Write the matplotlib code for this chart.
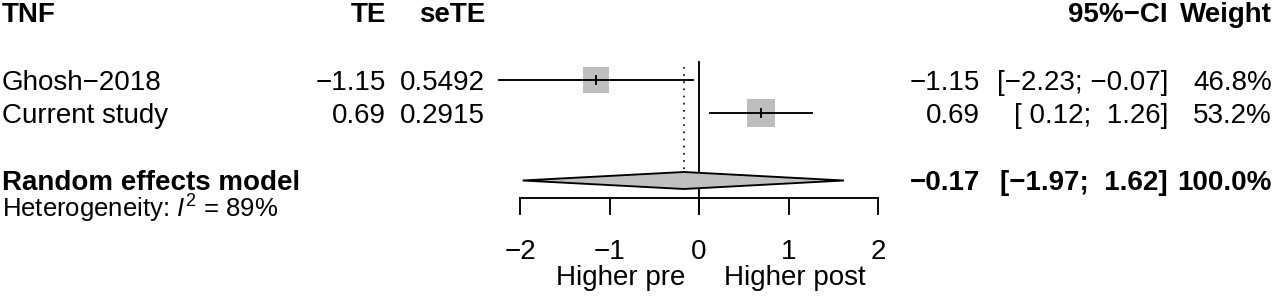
import matplotlib
matplotlib.use("Agg")
import matplotlib.pyplot as plt
from matplotlib.patches import Rectangle, Polygon
import numpy as np

plt.rcParams["font.family"] = ["Liberation Sans", "DejaVu Sans"]
plt.rcParams["mathtext.fontset"] = "custom"
plt.rcParams["mathtext.rm"] = "Liberation Sans"
plt.rcParams["mathtext.it"] = "Liberation Sans:italic"

# data
studies = ["Ghosh\u22122018", "Current study"]
te = [-1.15, 0.69]
se_te = [0.5492, 0.2915]
ci_low = [-2.23, 0.12]
ci_high = [-0.07, 1.26]
weights = [46.8, 53.2]
re_est = -0.17
re_low = -1.97
re_high = 1.62
i2 = 89
ticks = [-2, -1, 0, 1, 2]

# layout (pixels, y from top)
W, H = 1280, 300
x_m2, x_p2 = 520, 878
ppu = (x_p2 - x_m2) / 4.0
x0 = x_m2 + 2 * ppu
y_head, y_rows, y_re, y_het = 12, [80, 113], 180.5, 208.5
y_axis, tick_len = 198, 16
fs = 20
gray = "#bebebe"


def mtxt(v):
    return f"{v:.2f}".replace("-", "\u2212")


fig = plt.figure(figsize=(W / 100, H / 100), dpi=100)
ax = fig.add_axes([0, 0, 1, 1])
ax.set_xlim(-x0 / ppu, (W - x0) / ppu)
ax.set_ylim(H, 0)
ax.axis("off")
tx = fig.add_axes([0, 0, 1, 1], sharey=ax)
tx.set_xlim(0, W)
tx.axis("off")
tx.patch.set_alpha(0)

lw = 1.35

# reference lines
ax.plot([0, 0], [62, y_axis + tick_len], color="black", lw=lw)
ax.plot([re_est, re_est], [67, 172], color="black", lw=1.2, ls=(0, (1, 3.3)))

# studies
for i, y in enumerate(y_rows):
    side = 28.5 * np.sqrt(weights[i] / max(weights))
    ax.add_patch(Rectangle((te[i] - side / 2 / ppu, y - side / 2), side / ppu, side,
                           facecolor=gray, edgecolor="none", zorder=2))
    ax.plot([ci_low[i], ci_high[i]], [y, y], color="black", lw=lw, zorder=3)
    ax.plot([te[i], te[i]], [y - 4, y + 4], color="black", lw=lw, zorder=3)

# diamond
ax.add_patch(Polygon([(re_low, y_re), (re_est, y_re - 8.5), (re_high, y_re), (re_est, y_re + 8.5)],
                     closed=True, facecolor="#c0c0c0", edgecolor="black", lw=lw, zorder=3))

# x axis
ax.plot([ticks[0], ticks[-1]], [y_axis, y_axis], color="black", lw=lw)
for t in ticks:
    ax.plot([t, t], [y_axis, y_axis + tick_len], color="black", lw=lw)
    ax.text(t, 259, str(t).replace("-", "\u2212"), ha="center", va="baseline", fontsize=fs)
ax.text(-0.15, 285, "Higher pre", ha="right", va="baseline", fontsize=fs)
ax.text(0.28, 285, "Higher post", ha="left", va="baseline", fontsize=fs)

# columns
col_te, col_se, col_est, col_ci, col_w = 386, 485, 980, 1168, 1272
b = 10
tx.text(2, y_head + b, "TNF", ha="left", va="baseline", fontsize=fs, fontweight="bold")
tx.text(col_te, y_head + b, "TE", ha="right", va="baseline", fontsize=fs, fontweight="bold")
tx.text(col_se, y_head + b, "seTE", ha="right", va="baseline", fontsize=fs, fontweight="bold")
tx.text(col_ci, y_head + b, "95%\u2212CI", ha="right", va="baseline", fontsize=fs, fontweight="bold")
tx.text(col_w, y_head + b, "Weight", ha="right", va="baseline", fontsize=fs, fontweight="bold")

for i, y in enumerate(y_rows):
    yb = y + b
    tx.text(2, yb, studies[i], ha="left", va="baseline", fontsize=fs)
    tx.text(col_te, yb, mtxt(te[i]), ha="right", va="baseline", fontsize=fs)
    tx.text(col_se, yb, f"{se_te[i]:.4f}", ha="right", va="baseline", fontsize=fs)
    tx.text(col_est, yb, mtxt(te[i]), ha="right", va="baseline", fontsize=fs)
    lo = mtxt(ci_low[i]).rjust(5)
    hi = mtxt(ci_high[i]).rjust(5)
    tx.text(col_ci, yb, f"[{lo}; {hi}]", ha="right", va="baseline", fontsize=fs)
    tx.text(col_w, yb, f"{weights[i]:.1f}%", ha="right", va="baseline", fontsize=fs)

yb = y_re + b
tx.text(2, yb, "Random effects model", ha="left", va="baseline", fontsize=fs, fontweight="bold")
tx.text(col_est, yb, mtxt(re_est), ha="right", va="baseline", fontsize=fs, fontweight="bold")
tx.text(col_ci, yb, f"[{mtxt(re_low).rjust(5)}; {mtxt(re_high).rjust(5)}]",
        ha="right", va="baseline", fontsize=fs, fontweight="bold")
tx.text(col_w, yb, f"{sum(weights):.1f}%", ha="right", va="baseline", fontsize=fs, fontweight="bold")
tx.text(2, y_het + 9, rf"Heterogeneity: $I^2$ = {i2}%", ha="left", va="baseline", fontsize=18.5)

fig.savefig("out.png", dpi=100)
